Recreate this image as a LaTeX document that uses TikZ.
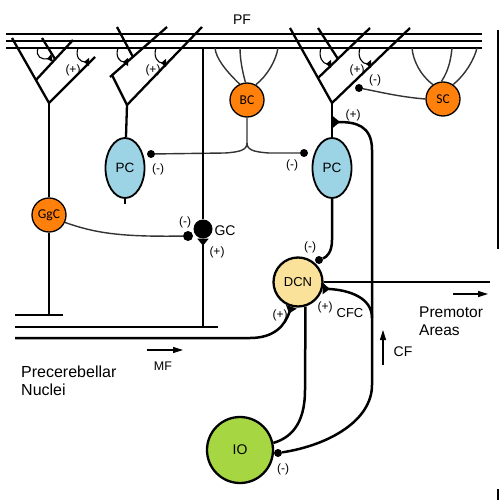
\documentclass[tikz,border=0pt]{standalone}
\usepackage{fontspec}
\setmainfont{Liberation Sans}
\newfontfamily\calib{Carlito}
\usetikzlibrary{arrows.meta,shapes.geometric}

\definecolor{pcblue}{RGB}{156,211,229}
\definecolor{cellorange}{RGB}{255,128,10}
\definecolor{dcnyellow}{RGB}{251,226,154}
\definecolor{iogreen}{RGB}{166,214,66}

\begin{document}
\begin{tikzpicture}[x=1pt,y=-1pt]
    \useasboundingbox (0,0) rectangle (500,500);

    \tikzstyle{pcell}=[draw=black,line width=1.8pt,fill=pcblue,ellipse,minimum width=39pt,minimum height=60pt,inner sep=0pt,font=\fontsize{13.5}{13.5}\selectfont]
    \tikzstyle{orng}=[draw=black,line width=1.3pt,fill=cellorange,circle,minimum size=34pt,inner sep=0pt,font=\calib\fontsize{13.5}{13.5}\selectfont]
    \tikzstyle{dcn}=[draw=black,line width=2.3pt,fill=dcnyellow,circle,minimum size=49pt,inner sep=0pt,font=\fontsize{13}{13}\selectfont]
    \tikzstyle{io}=[draw=black,line width=2.3pt,fill=iogreen,circle,minimum size=66pt,inner sep=0pt,font=\fontsize{14}{14}\selectfont]
    \tikzstyle{gcell}=[fill=black,circle,minimum size=19pt,inner sep=0pt]
    \tikzstyle{sdot}=[fill=black,circle,minimum size=8pt,inner sep=0pt]
    \tikzstyle{dend}=[draw=black,line width=2.3pt]
    \tikzstyle{fib}=[draw=black,line width=2.5pt]
    \tikzstyle{fine}=[draw=black!80,line width=1.4pt]
    \tikzstyle{pfl}=[draw=black,line width=1.6pt]
    \tikzstyle{exc}=[-{Triangle[reversed,length=7pt,width=11pt]}]
    \tikzstyle{cup}=[draw=black,line width=1.1pt,-{Triangle[reversed,length=5pt,width=8pt]}]
    \tikzstyle{lbl}=[inner sep=0pt,font=\fontsize{12}{12}\selectfont]
    \tikzstyle{txt}=[inner sep=0pt,font=\fontsize{14}{14}\selectfont]
    \tikzstyle{big}=[inner sep=0pt,align=left,anchor=west,font=\fontsize{16}{18}\selectfont]
    \tikzstyle{dir}=[draw=black,line width=1.2pt,-{Triangle[length=10pt,width=6pt]}]

    % parallel fibres
    \draw[pfl] (6,34) -- (482,34);
    \draw[pfl] (6,41) -- (482,41);
    \draw[pfl] (6,48) -- (482,48);
    \node[txt] (pf) at (242,20) {PF};

    % cells
    \node[pcell] (pc1) at (125,168) {PC};
    \node[pcell] (pc2) at (332,168) {PC};
    \node[orng]  (ggc) at (49,215) {GgC};
    \node[orng]  (bc) at (247,100) {BC};
    \node[orng]  (sc) at (443,99) {SC};
    \node[dcn]   (dcn) at (298,282) {DCN};
    \node[io]    (io) at (240,450) {IO};
    \node[gcell] (gc) at (203,229) {};
    \node[txt]   (gcl) at (225,231) {GC};

    \node[sdot] (d1) at (151,154) {};
    \node[sdot] (d2) at (304,153) {};
    \node[sdot] (d3) at (359,88) {};
    \node[sdot,minimum size=10pt] (d4) at (188,236) {};
    \node[sdot] (d5) at (319,260) {};
    \node[sdot] (d6) at (278,453) {};

    % dendritic trees
    \coordinate (t1) at (49,103);
    \coordinate (t2) at (127,105);
    \coordinate (t3) at (332,103);
    \draw[dend] (12,38) -- (t1) -- (95,57);
    \draw[dend] (36,80) -- (73,40);
    \draw[dend] (42,38) -- (55,59);
    \draw[dend] (112,75) -- (t2) -- (202,27);
    \draw[dend] (110,77) -- (167,27);
    \draw[dend] (117,27) -- (133,57);
    \draw[dend] (290,28) -- (t3) -- (410,28);
    \draw[dend] (318,78) -- (370,28);
    \draw[dend] (318,28) -- (338,59);

    \draw[cup] (38,48) .. controls (35,57) and (42,60) .. (52,58);
    \draw[cup] (78,48) .. controls (75,57) and (80,62) .. (89,62);
    \draw[cup] (118,48) .. controls (115,57) and (120,62) .. (128,62);
    \draw[cup] (156,48) .. controls (153,57) and (158,63) .. (166,63);
    \draw[cup] (321,48) .. controls (318,57) and (323,64) .. (331,64);
    \draw[cup] (360,48) .. controls (357,57) and (362,64) .. (371,64);

    \draw[dend] (t1) -- (ggc);
    \draw[line width=1.6pt] (ggc) -- (49,315);
    \draw[fib] (15,315) -- (63,315);
    \draw[dend] (t2) -- (pc1);
    \draw[dend] (pc1.south) -- ++(0,5);
    \draw[dend] (t3) -- (pc2);

    % basket and stellate cells
    \draw[fine] (bc.115) .. controls (225,70) and (216,58) .. (215,48);
    \draw[fine] (bc.95) .. controls (242,70) and (240,58) .. (240,48);
    \draw[fine] (bc.60) .. controls (268,75) and (276,60) .. (278,48);
    \coordinate (bcx) at (247,143);
    \draw[fine] (bc) -- (bcx) .. controls (247,150) and (240,152) .. (225,153) -- (d1);
    \draw[fine] (bcx) .. controls (247,150) and (254,152) .. (269,153) -- (d2);
    \draw[fine] (sc.125) .. controls (420,75) and (413,60) .. (412,48);
    \draw[fine] (sc.95) .. controls (449,70) and (451,58) .. (452,48);
    \draw[fine] (sc.55) .. controls (465,75) and (474,60) .. (477,48);
    \draw[fine] (sc.west) .. controls (400,97) and (380,92) .. (d3);

    % granule and golgi cells
    \draw[line width=1.6pt] (gc) -- (203,48);
    \draw[line width=1.6pt,exc] (203,327) -- (gc);
    \draw[fine] (ggc.-25) .. controls (95,233) and (120,237) .. (d4);

    % mossy fibres
    \draw[fib] (15,327) -- (218,327);
    \draw[fib,exc] (15,338) -- (250,338) .. controls (275,338) and (285,325) .. (dcn.-105);

    % purkinje to nuclei, nuclei out
    \draw[fib] (pc2.south) -- (332,240) .. controls (332,252) and (327,257) .. (d5);
    \draw[fib] (dcn.east) -- (490,282);
    \draw[fib] (dcn.-73) -- (305,390) .. controls (305,425) and (290,438) .. (io.12);

    % climbing fibre
    \coordinate (cft) at (333,122);
    \draw[fib,exc] (d6) .. controls (330,445) and (372,420) .. (372,385) -- (372,150) .. controls (372,125) and (355,122) .. (cft);
    \draw[fib,exc] (372,318) .. controls (372,298) and (350,290) .. (dcn.-15);

    % signs
    \node[lbl] (p1) at (73,70) {(+)};
    \node[lbl] (p2) at (153,70) {(+)};
    \node[lbl] (p3) at (357,70) {(+)};
    \node[lbl] (m1) at (375,80) {(-)};
    \node[lbl] (p4) at (353,115) {(+)};
    \node[lbl] (m2) at (158,169) {(-)};
    \node[lbl] (m3) at (292,165) {(-)};
    \node[lbl] (m4) at (185,222) {(-)};
    \node[lbl] (p5) at (217,252) {(+)};
    \node[lbl] (m5) at (310,247) {(-)};
    \node[lbl] (p6) at (280,315) {(+)};
    \node[lbl] (p7) at (325,307) {(+)};
    \node[lbl] (m6) at (283,469) {(-)};

    % names and directions
    \node[txt,font=\fontsize{13}{13}\selectfont] (cfc) at (350,313) {CFC};
    \node[txt,font=\fontsize{12.5}{12.5}\selectfont] (mf) at (163,366) {MF};
    \node[txt] (cf) at (403,352) {CF};
    \node[big,font=\fontsize{15.5}{18}\selectfont] (pm) at (419,321) {Premotor\\Areas};
    \node[big] (pn) at (21,381) {Precerebellar\\Nuclei};

    \coordinate (mfa) at (147,350);
    \coordinate (mfb) at (183,350);
    \coordinate (cfa) at (383,365);
    \coordinate (cfb) at (383,330);
    \coordinate (pma) at (453,294);
    \coordinate (pmb) at (488,294);
    \draw[dir] (mfa) -- (mfb);
    \draw[dir] (cfa) -- (cfb);
    \draw[dir] (pma) -- (pmb);

    \draw[line width=2pt] (498,30) -- (498,249);
    \draw[line width=2pt] (498,489) -- (498,500);
\end{tikzpicture}
\end{document}
